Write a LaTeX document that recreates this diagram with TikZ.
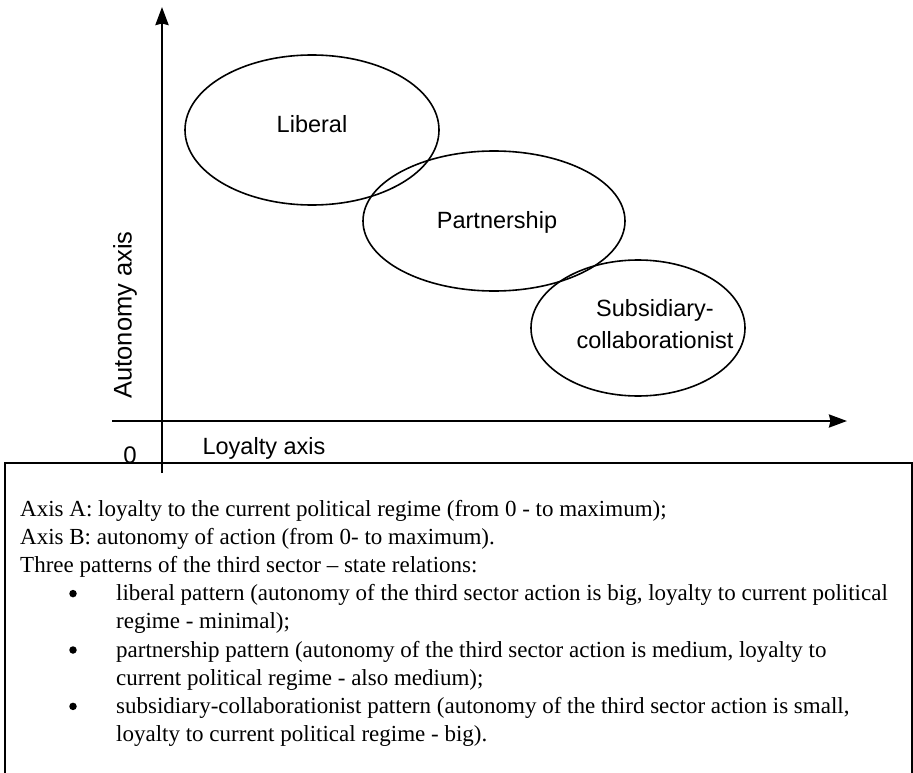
\documentclass[tikz,border=0pt]{standalone}
\usepackage{fontspec}
\setmainfont{Liberation Serif}
\setsansfont{Liberation Sans}
\usetikzlibrary{arrows.meta}
\tikzset{
  axisline/.style={line width=2.6pt,-{Stealth[length=18pt,width=13pt,inset=1.5pt]}},
  blob/.style={draw,line width=1.6pt},
  lbl/.style={font=\sffamily\fontsize{23.5}{32}\selectfont,inner sep=0pt,align=center},
  txt/.style={font=\fontsize{23}{28}\selectfont,inner sep=0pt,anchor=base west},
  bul/.style={circle,fill=black,inner sep=0pt,minimum size=7.5pt},
  frame/.style={draw,line width=1.2pt}
}
\begin{document}
\begin{tikzpicture}[x=1pt,y=-1pt]
\useasboundingbox (0,0) rectangle (913,773);
% text frame
\coordinate (fa) at (5,463);
\coordinate (fb) at (912,800);
\draw[frame] (fa) rectangle (fb);
% axes
\coordinate (vb) at (162,473);
\coordinate (vt) at (162,7);
\coordinate (hl) at (112,421);
\coordinate (hr) at (847,421);
\draw[axisline] (vb) -- (vt);
\draw[axisline,line width=2.3pt] (hl) -- (hr);
% ellipses
\draw[blob] (312,130) ellipse [x radius=127, y radius=75];
\draw[blob] (494,221) ellipse [x radius=131, y radius=70];
\draw[blob] (638,328) ellipse [x radius=107, y radius=68];
\node[lbl] (lib) at (312,124) {Liberal};
\node[lbl] (par) at (497,222) {Partnership};
\node[lbl] (sub) at (655,324) {Subsidiary-\\collaborationist};
% axis labels
\node[lbl,font=\sffamily\fontsize{24}{32}\selectfont] (zero) at (130,455) {0};
\node[lbl] (loy) at (264,448) {Loyalty axis};
\node[lbl,rotate=90,font=\sffamily\fontsize{25.5}{32}\selectfont] (aut) at (125,315) {Autonomy axis};
% text
\node[txt] (t1) at (20,516) {Axis A: loyalty to the current political regime (from 0 - to maximum);};
\node[txt] (t2) at (20,544.2) {Axis B: autonomy of action (from 0- to maximum).};
\node[txt] (t3) at (20,572.4) {Three patterns of the third sector -- state relations:};
\node[bul] (b1) at (73,593.6) {};
\node[txt] (t4) at (116,600.6) {liberal pattern (autonomy of the third sector action is big, loyalty to current political};
\node[txt] (t5) at (116,628.8) {regime - minimal);};
\node[bul] (b2) at (73,650) {};
\node[txt] (t6) at (116,657) {partnership pattern (autonomy of the third sector action is medium, loyalty to};
\node[txt] (t7) at (116,685.2) {current political regime - also medium);};
\node[bul] (b3) at (73,706.4) {};
\node[txt] (t8) at (116,713.4) {subsidiary-collaborationist pattern (autonomy of the third sector action is small,};
\node[txt] (t9) at (116,741.6) {loyalty to current political regime - big).};
\end{tikzpicture}
\end{document}
